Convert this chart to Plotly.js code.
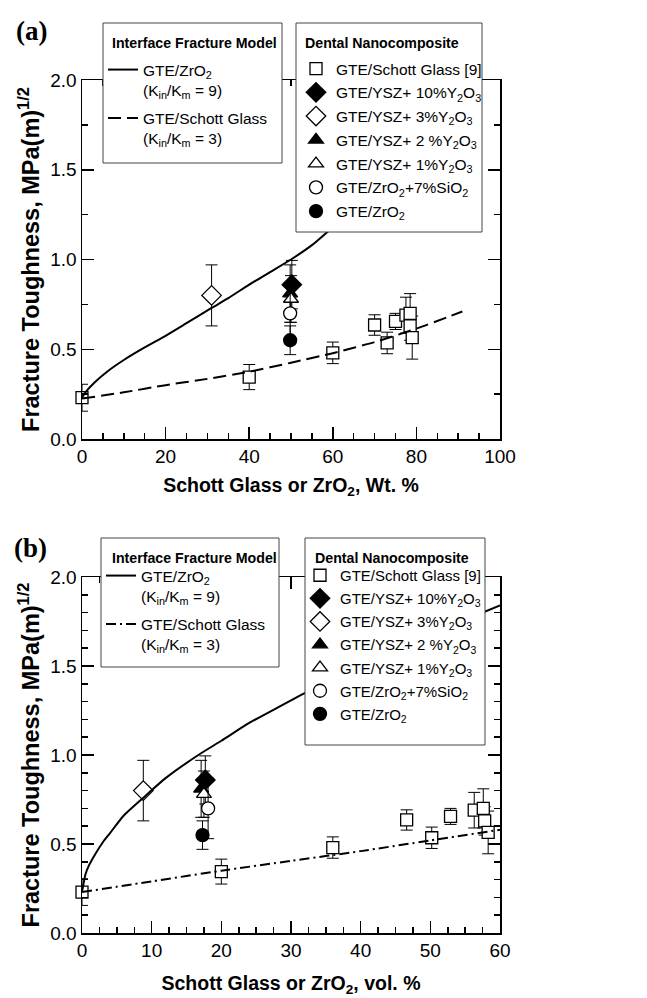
<!DOCTYPE html>
<html>
<head>
<meta charset="utf-8">
<script src="https://cdn.plot.ly/plotly-3.0.1.min.js"></script>
<style>html,body{margin:0;padding:0;background:#fff;}#chart{width:647px;height:998px;}</style>
</head>
<body>
<div id="chart"></div>
<script>
// ---------- data ----------
// Panel (a): Wt. %   Panel (b): vol. %
const schottWt   = [0, 40, 60, 70, 73, 75, 77.5, 78.5, 78.5, 79];
const schottVol  = [0, 20, 36, 46.6, 50.2, 52.9, 56.3, 57.6, 57.8, 58.3];
const schottK    = [0.23, 0.345, 0.48, 0.635, 0.535, 0.655, 0.69, 0.70, 0.63, 0.565];
const schottErr  = [0.075, 0.07, 0.06, 0.057, 0.06, 0.045, 0.10, 0.11, 0.08, 0.12];

const ysz10Wt = [50.2], ysz10Vol = [17.7], ysz10K = [0.86], ysz10Err = [0.135];
const ysz3Wt  = [31],   ysz3Vol  = [8.8],  ysz3K  = [0.80], ysz3Err  = [0.17];
const ysz2Wt  = [49.8], ysz2Vol  = [17.1], ysz2K  = [0.81], ysz2Err  = [0.16];
const ysz1Wt  = [50],   ysz1Vol  = [17.5], ysz1K  = [0.78], ysz1Err  = [0.13];
const sioWt   = [49.8], sioVol   = [18.1], sioK   = [0.70], sioErr   = [0.17];
const zrWt    = [49.8], zrVol    = [17.3], zrK    = [0.55], zrErr    = [0.08];

// model curves
const modelZrWt  = [0, 1, 3, 6, 10, 15, 20, 25, 31, 35, 40, 45, 50, 55, 60, 65, 70, 75, 80, 85, 90];
const modelZrWtK = [0.23, 0.265, 0.315, 0.375, 0.44, 0.51, 0.575, 0.645, 0.73, 0.785, 0.86, 0.93, 1.00, 1.08, 1.18, 1.28, 1.40, 1.52, 1.66, 1.80, 1.96];
const modelSgWt  = [0, 10, 20, 30, 40, 50, 60, 70, 80, 91];
const modelSgWtK = [0.225, 0.26, 0.30, 0.335, 0.375, 0.425, 0.478, 0.54, 0.615, 0.71];

const modelZrVol  = [0, 0.5, 1, 2, 3, 4, 6, 8.8, 12, 16.7, 20, 24, 28, 31.6, 36, 40, 45, 50, 55, 60];
const modelZrVolK = [0.23, 0.33, 0.38, 0.45, 0.51, 0.56, 0.66, 0.76, 0.87, 1.00, 1.08, 1.18, 1.265, 1.34, 1.43, 1.50, 1.60, 1.68, 1.76, 1.84];
const modelSgVol  = [0, 10, 20, 30, 40, 50, 60];
const modelSgVolK = [0.23, 0.29, 0.35, 0.405, 0.46, 0.52, 0.58];

const ticksWt  = [0, 20, 40, 60, 80, 100];
const ticksVol = [0, 10, 20, 30, 40, 50, 60];
const ticksK   = [0, 0.5, 1.0, 1.5, 2.0];

const legendTitleModel = 'Interface Fracture Model';
const legendTitleData  = 'Dental Nanocomposite';
const names = {
  zrModel: 'GTE/ZrO<sub>2</sub><br>(K<sub>in</sub>/K<sub>m</sub> = 9)',
  sgModel: 'GTE/Schott Glass<br>(K<sub>in</sub>/K<sub>m</sub> = 3)',
  schott: 'GTE/Schott Glass [9]',
  ysz10: 'GTE/YSZ+ 10%Y<sub>2</sub>O<sub>3</sub>',
  ysz3: 'GTE/YSZ+ 3%Y<sub>2</sub>O<sub>3</sub>',
  ysz2: 'GTE/YSZ+ 2 %Y<sub>2</sub>O<sub>3</sub>',
  ysz1: 'GTE/YSZ+ 1%Y<sub>2</sub>O<sub>3</sub>',
  sio: 'GTE/ZrO<sub>2</sub>+7%SiO<sub>2</sub>',
  zr: 'GTE/ZrO<sub>2</sub>'
};

// ---------- helpers ----------
const FONT = 'Liberation Sans, Arial, sans-serif';
const W = 647, H = 998;
const px = v => v / W, py = v => 1 - v / H;
let gid = 0;
function pts(x, y, err, name, symbol, fill, size, xa, ya, leg) {
  return {
    type: 'scatter', mode: 'markers', x: x, y: y, name: name,
    xaxis: xa, yaxis: ya, legend: leg, legendgroup: 'g' + (gid++), cliponaxis: false,
    marker: {symbol: symbol, size: size, color: fill, line: {color: 'black', width: 1.3}},
    error_y: {type: 'data', array: err, visible: true, color: 'black', thickness: 1, width: 6}
  };
}
function line(x, y, name, dash, xa, ya, leg) {
  return {
    type: 'scatter', mode: 'lines', x: x, y: y, name: name,
    xaxis: xa, yaxis: ya, legend: leg, legendgroup: 'g' + (gid++),
    line: {color: 'black', width: 2, dash: dash, shape: 'spline', smoothing: 0.6}
  };
}

const traces = [];
function panel(xs, xa, ya, legM, legL) {
  traces.push(pts(xs.schott, schottK, schottErr, names.schott, 'square', 'white', 12, xa, ya, legM));
  traces.push(pts(xs.ysz10, ysz10K, ysz10Err, names.ysz10, 'diamond', 'black', 15, xa, ya, legM));
  traces.push(pts(xs.ysz3, ysz3K, ysz3Err, names.ysz3, 'diamond', 'white', 15, xa, ya, legM));
  traces.push(pts(xs.ysz2, ysz2K, ysz2Err, names.ysz2, 'triangle-up', 'black', 13, xa, ya, legM));
  traces.push(pts(xs.ysz1, ysz1K, ysz1Err, names.ysz1, 'triangle-up', 'white', 13, xa, ya, legM));
  traces.push(pts(xs.sio, sioK, sioErr, names.sio, 'circle', 'white', 13, xa, ya, legM));
  traces.push(pts(xs.zr, zrK, zrErr, names.zr, 'circle', 'black', 13, xa, ya, legM));
  traces.push(line(xs.mz, xs.mzK, names.zrModel, 'solid', xa, ya, legL));
  traces.push(line(xs.ms, xs.msK, names.sgModel, xs.dash, xa, ya, legL));
}
panel({schott: schottWt, ysz10: ysz10Wt, ysz3: ysz3Wt, ysz2: ysz2Wt, ysz1: ysz1Wt, sio: sioWt, zr: zrWt,
       mz: modelZrWt, mzK: modelZrWtK, ms: modelSgWt, msK: modelSgWtK, dash: '13px,6px'},
      'x', 'y', 'legend2', 'legend');
panel({schott: schottVol, ysz10: ysz10Vol, ysz3: ysz3Vol, ysz2: ysz2Vol, ysz1: ysz1Vol, sio: sioVol, zr: zrVol,
       mz: modelZrVol, mzK: modelZrVolK, ms: modelSgVol, msK: modelSgVolK, dash: '10px,4px,2px,4px'},
      'x2', 'y2', 'legend4', 'legend3');

function axis(extra) {
  return Object.assign({
    showline: true, linewidth: 1.5, linecolor: 'black', mirror: 'ticks',
    ticks: 'inside', ticklen: 12, tickwidth: 1.5, tickcolor: 'black',
    showgrid: false, zeroline: false, automargin: false,
    tickfont: {family: FONT, size: 19, color: 'black'}
  }, extra);
}
const titleFont = {family: FONT, size: 19.5, color: 'black'};
const yTitleFont = {family: FONT, size: 23.5, color: 'black'};
const yTitle = '<b>Fracture Toughness, MPa(m)<sup>1/2</sup></b>';

function legendBox(x, y, gap, size) {
  return {
    x: px(x), y: py(y), xanchor: 'left', yanchor: 'top', xref: 'paper', yref: 'paper',
    bgcolor: 'rgba(0,0,0,0)', borderwidth: 0,
    font: {family: FONT, size: size, color: 'black'},
    valign: 'top', traceorder: 'grouped', tracegroupgap: gap
  };
}
function boxShape(x0, y0, x1, y1) {
  return {type: 'rect', xref: 'paper', yref: 'paper', x0: px(x0), x1: px(x1), y0: py(y1), y1: py(y0),
          line: {color: '#444', width: 1}, fillcolor: 'white', layer: 'above'};
}
function boxTitle(text, x, y) {
  return {text: '<b>' + text + '</b>', xref: 'paper', yref: 'paper', x: px(x), y: py(y),
          xanchor: 'left', yanchor: 'middle', showarrow: false,
          font: {family: FONT, size: 14.2, color: 'black'}};
}

const layout = {
  width: W, height: H,
  margin: {l: 0, r: 0, t: 0, b: 0},
  paper_bgcolor: 'white', plot_bgcolor: 'white',
  showlegend: true,
  xaxis: axis({domain: [px(82), px(500)], anchor: 'y', range: [0, 100], tickvals: ticksWt,
    minor: {dtick: 5, ticks: 'inside', ticklen: 6, tickwidth: 1.5, tickcolor: 'black', showgrid: false},
    title: {text: '<b>Schott Glass or ZrO<sub>2</sub>, Wt. %</b>', font: titleFont, standoff: 12}}),
  yaxis: axis({domain: [py(439), py(80)], anchor: 'x', range: [0, 2], tickvals: ticksK, tickformat: '.1f',
    minor: {dtick: 0.25, ticks: 'inside', ticklen: 6, tickwidth: 1.5, tickcolor: 'black', showgrid: false},
    title: {text: yTitle, font: yTitleFont, standoff: 4}}),
  xaxis2: axis({domain: [px(82), px(500)], anchor: 'y2', range: [0, 60], tickvals: ticksVol,
    minor: {dtick: 2.5, ticks: 'inside', ticklen: 6, tickwidth: 1.5, tickcolor: 'black', showgrid: false},
    title: {text: '<b>Schott Glass or ZrO<sub>2</sub>, vol. %</b>', font: titleFont, standoff: 16}}),
  yaxis2: axis({domain: [py(933), py(577)], anchor: 'x2', range: [0, 2], tickvals: ticksK, tickformat: '.1f',
    minor: {dtick: 0.1, ticks: 'inside', ticklen: 6, tickwidth: 1.5, tickcolor: 'black', showgrid: false},
    title: {text: yTitle, font: yTitleFont, standoff: 4}}),
  legend: legendBox(103, 53, 5, 15.5),
  legend2: legendBox(296, 52, 0.6, 15.5),
  legend3: legendBox(101, 559, 5, 15.5),
  legend4: legendBox(300, 559, 0.6, 15),
  shapes: [
    boxShape(103, 23, 282, 163),
    boxShape(296, 23, 482, 232),
    boxShape(101, 538, 279, 667),
    boxShape(305, 538, 485, 745)
  ],
  annotations: [
    boxTitle(legendTitleModel, 110, 43),
    boxTitle(legendTitleData, 303, 43),
    boxTitle(legendTitleModel, 110, 558),
    boxTitle(legendTitleData, 313, 558),
    {text: '<b>(a)</b>', xref: 'paper', yref: 'paper', x: px(14), y: py(31), xanchor: 'left', yanchor: 'middle',
     showarrow: false, font: {family: 'Liberation Serif, Times New Roman, serif', size: 27, color: 'black'}},
    {text: '<b>(b)</b>', xref: 'paper', yref: 'paper', x: px(12), y: py(548), xanchor: 'left', yanchor: 'middle',
     showarrow: false, font: {family: 'Liberation Serif, Times New Roman, serif', size: 27, color: 'black'}}
  ]
};

Plotly.newPlot('chart', traces, layout, {displayModeBar: false, staticPlot: true});
</script>
</body>
</html>
